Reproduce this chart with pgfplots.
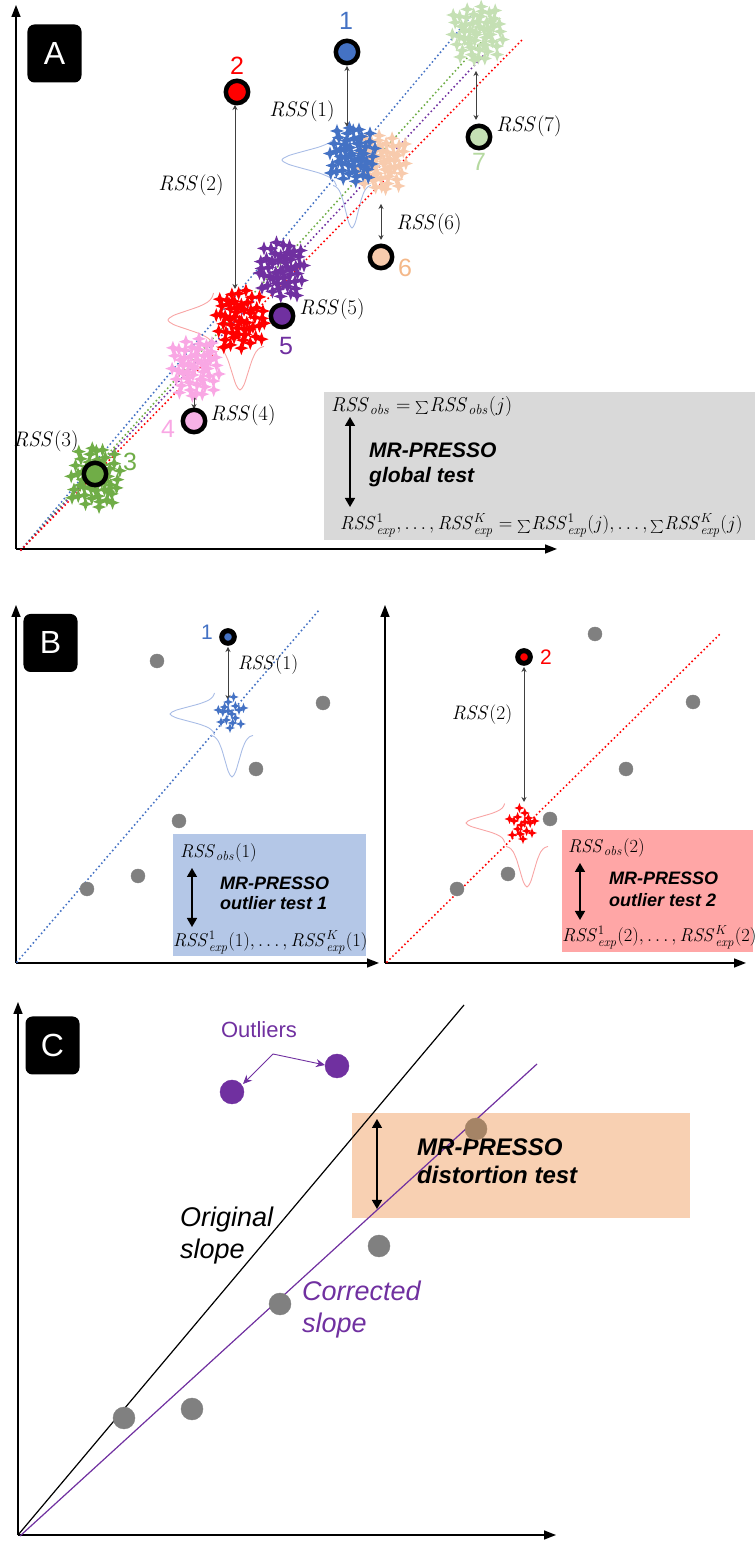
\RequirePackage{fix-cm}
\documentclass[border=0pt]{standalone}
\usepackage[no-math]{fontspec}
\setmainfont{Liberation Sans}
\usepackage{graphicx}
\usepackage{pgfplots}
\pgfplotsset{compat=1.18}
\usepackage{pgfplotstable}
\usetikzlibrary{arrows.meta}

\newcommand{\bsum}{\mathop{\raisebox{-0.15em}{\scalebox{1.3}{$\textstyle\sum$}}}\nolimits\!}

\definecolor{cblue}{HTML}{4472C4}
\definecolor{cred}{HTML}{FF0000}
\definecolor{cgreen}{HTML}{70AD47}
\definecolor{cpink}{HTML}{F9A7E4}
\definecolor{cpinkpt}{HTML}{F7B2E6}
\definecolor{cpurple}{HTML}{7030A0}
\definecolor{cpeach}{HTML}{F8CBAD}
\definecolor{cpeachlab}{HTML}{F4B889}
\definecolor{clgreen}{HTML}{C5E0B4}
\definecolor{clgreenlab}{HTML}{B5D9A0}
\definecolor{cgray}{HTML}{808080}
\definecolor{boxgray}{HTML}{D9D9D9}
\definecolor{boxblue}{HTML}{B4C7E7}
\definecolor{boxred}{HTML}{FFA6A6}
\definecolor{boxorange}{HTML}{F8D0B2}
\definecolor{cbrown}{HTML}{A58466}
\definecolor{lblue}{HTML}{A9BDE6}
\definecolor{lred}{HTML}{F8A5A5}
\definecolor{arrgray}{HTML}{404040}

\pgfdeclareplotmark{sparkle}{%
  \pgfpathmoveto{\pgfqpoint{0pt}{\pgfplotmarksize}}%
  \pgfpathlineto{\pgfqpoint{0.27\pgfplotmarksize}{0.27\pgfplotmarksize}}%
  \pgfpathlineto{\pgfqpoint{\pgfplotmarksize}{0pt}}%
  \pgfpathlineto{\pgfqpoint{0.27\pgfplotmarksize}{-0.27\pgfplotmarksize}}%
  \pgfpathlineto{\pgfqpoint{0pt}{-\pgfplotmarksize}}%
  \pgfpathlineto{\pgfqpoint{-0.27\pgfplotmarksize}{-0.27\pgfplotmarksize}}%
  \pgfpathlineto{\pgfqpoint{-\pgfplotmarksize}{0pt}}%
  \pgfpathlineto{\pgfqpoint{-0.27\pgfplotmarksize}{0.27\pgfplotmarksize}}%
  \pgfpathclose
  \pgfusepathqfill
}

\pgfplotstableread{
dx dy
-0.05 0.02
0.32 -0.15
-0.41 0.28
0.12 0.55
-0.22 -0.48
0.58 0.21
-0.63 -0.12
0.05 -0.82
0.44 0.67
-0.35 0.79
0.71 -0.44
-0.78 0.35
0.25 0.12
-0.15 0.33
0.38 -0.62
-0.52 -0.58
0.83 0.05
-0.88 -0.05
0.15 0.88
-0.08 -0.25
0.62 0.48
-0.28 -0.15
0.48 -0.05
-0.45 0.05
0.02 0.38
0.22 -0.38
-0.62 0.55
0.72 -0.72
-0.18 -0.72
0.35 0.35
-0.72 -0.38
0.08 -0.55
0.55 -0.28
-0.38 0.52
0.18 0.72
-0.55 0.22
0.92 -0.22
-0.12 0.62
0.28 -0.85
-0.25 0.10
0.65 0.75
-0.85 0.60
0.40 0.10
-0.02 -0.05
0.10 0.20
-0.30 -0.35
0.50 0.40
-0.60 -0.80
0.80 0.30
-0.45 -0.20
0.30 -0.40
-0.10 -0.90
}\jitter

\pgfplotstableread{
dx dy
-0.10 0.60
0.30 0.40
-0.40 0.10
0.10 0.00
0.50 0.20
-0.20 -0.30
0.30 -0.20
-0.50 -0.40
0.00 -0.70
0.60 -0.50
-0.30 0.35
0.20 0.85
0.75 0.30
-0.65 0.20
0.15 -0.45
-0.10 0.15
}\jitterB

\pgfplotsset{
  panel/.style={anchor=south west, x=1pt, y=1pt, axis lines*=left,
    xtick=\empty, ytick=\empty, clip=false,
    axis line style={line width=1.6pt, -{Triangle[length=12pt,width=9pt]}}},
  dotl/.style={line width=2.2pt, dash pattern=on 0pt off 4.2pt, line cap=round},
  thinarr/.style={arrgray, line width=0.8pt, {Stealth[length=5pt,width=5pt]}-{Stealth[length=5pt,width=5pt]}},
  thickarr/.style={black, line width=1.6pt, {Triangle[length=9pt,width=10pt]}-{Triangle[length=9pt,width=10pt]}},
  dens/.style={line width=0.9pt, smooth},
}
\tikzset{
  panlab/.style={fill=black, text=white, rounded corners=7pt, minimum width=54pt,
    minimum height=58pt, inner sep=0pt, font=\fontsize{32}{32}\selectfont},
  rss/.style={inner sep=0pt, font=\fontsize{21}{23}\selectfont},
  rssb/.style={inner sep=0pt, font=\fontsize{19.5}{21}\selectfont},
  num/.style={inner sep=0pt, font=\fontsize{25}{25}\selectfont},
}

\begin{document}
\begin{tikzpicture}
\useasboundingbox (0pt,0pt) rectangle (755pt,1551pt);

% ================= Panel A =================
\begin{axis}[panel, at={(16pt,1002pt)}, xmin=16, xmax=557, ymin=1002, ymax=1546]
\addplot[fill=boxgray, draw=none] coordinates {(324,1011) (760,1011) (760,1159) (324,1159)} -- cycle;
% densities
\addplot[dens, lblue] coordinates {(336.4,1417) (334.6,1412.7) (329.6,1408.4) (319.1,1404) (303.6,1399.7) (288.5,1395.3) (282,1391) (288.5,1386.7) (303.6,1382.3) (319.1,1378) (329.6,1373.6) (334.6,1369.3) (336.4,1365)};
\addplot[dens, lblue] coordinates {(333.1,1365.5) (336.25,1364.1) (339.4,1360.2) (342.55,1352) (345.7,1339.9) (348.85,1328.1) (352,1323) (355.15,1328.1) (358.3,1339.9) (361.45,1352) (364.6,1360.2) (367.75,1364.1) (370.9,1365.5)};
\addplot[dens, lred] coordinates {(213.5,1258) (212,1253.5) (207.8,1249) (199,1244.5) (186.1,1240) (173.4,1235.5) (168,1231) (173.4,1226.5) (186.1,1222) (199,1217.5) (207.8,1213) (212,1208.5) (213.5,1204)};
\addplot[dens, lred] coordinates {(216,1204.5) (220,1203.1) (224,1199.1) (228,1190.7) (232,1178.3) (236,1166.2) (240,1161) (244,1166.2) (248,1178.3) (252,1190.7) (256,1199.1) (260,1203.1) (264,1204.5)};
% clusters
\addplot[only marks, mark=sparkle, mark size=7pt, color=clgreen] table[x expr=\thisrow{dx}*28+477, y expr=\thisrow{dy}*30+1518]{\jitter};
\addplot[only marks, mark=sparkle, mark size=7pt, color=cpeach] table[x expr=-\thisrow{dx}*26+383, y expr=\thisrow{dy}*30+1389]{\jitter};
\addplot[only marks, mark=sparkle, mark size=7pt, color=cblue] table[x expr=\thisrow{dx}*25+352, y expr=-\thisrow{dy}*30+1396]{\jitter};
\addplot[only marks, mark=sparkle, mark size=7pt, color=cpurple] table[x expr=\thisrow{dy}*25+282, y expr=\thisrow{dx}*30+1281]{\jitter};
\addplot[only marks, mark=sparkle, mark size=7pt, color=cpink] table[x expr=\thisrow{dx}*26+195, y expr=\thisrow{dy}*32+1184]{\jitter};
\addplot[only marks, mark=sparkle, mark size=7pt, color=cred] table[x expr=-\thisrow{dy}*27+240, y expr=\thisrow{dx}*32+1231]{\jitter};
\addplot[only marks, mark=sparkle, mark size=7pt, color=cgreen] table[x expr=\thisrow{dx}*27+95, y expr=-\thisrow{dy}*33+1073]{\jitter};
% lines
\addplot[dotl, cblue] coordinates {(21,1001) (472,1536)};
\addplot[dotl, cgreen] coordinates {(21,1001) (497,1526)};
\addplot[dotl, cpurple] coordinates {(21,1001) (484,1496)};
\addplot[dotl, cred] coordinates {(21,1001) (522,1511)};
% arrows
\addplot[thinarr] coordinates {(347,1485) (347,1424)};
\addplot[thinarr] coordinates {(235,1446) (235,1262)};
\addplot[thinarr] coordinates {(194,1156) (194,1142)};
\addplot[thinarr] coordinates {(381,1347) (381,1311)};
\addplot[thinarr] coordinates {(476,1480) (476,1431)};
\addplot[thickarr] coordinates {(350,1134) (350,1044)};
% points
\addplot[only marks, mark=*, mark size=11.2pt, mark options={draw=black, line width=4.5pt, fill=cblue}] coordinates {(347,1499)};
\addplot[only marks, mark=*, mark size=11.2pt, mark options={draw=black, line width=4.5pt, fill=cred}] coordinates {(237,1459)};
\addplot[only marks, mark=*, mark size=11.2pt, mark options={draw=black, line width=4.5pt, fill=cgreen}] coordinates {(95,1077)};
\addplot[only marks, mark=*, mark size=11.2pt, mark options={draw=black, line width=4.5pt, fill=cpinkpt}] coordinates {(194,1130)};
\addplot[only marks, mark=*, mark size=11.2pt, mark options={draw=black, line width=4.5pt, fill=cpurple}] coordinates {(282,1235)};
\addplot[only marks, mark=*, mark size=11.2pt, mark options={draw=black, line width=4.5pt, fill=cpeach}] coordinates {(381,1294)};
\addplot[only marks, mark=*, mark size=11.2pt, mark options={draw=black, line width=4.5pt, fill=clgreen}] coordinates {(479,1414)};
% texts
\node[panlab] at (axis cs:54.5,1497.5) {A};
\node[num, text=cblue] at (axis cs:346,1530) {1};
\node[num, text=cred] at (axis cs:237,1485) {2};
\node[num, text=cgreen] at (axis cs:130,1089) {3};
\node[num, text=cpink] at (axis cs:168,1122) {4};
\node[num, text=cpurple] at (axis cs:286,1205) {5};
\node[num, text=cpeachlab] at (axis cs:405,1283) {6};
\node[num, text=clgreenlab] at (axis cs:479,1389) {7};
\node[rss] at (axis cs:302,1440) {$\mathit{RSS}(1)$};
\node[rss] at (axis cs:191,1366) {$\mathit{RSS}(2)$};
\node[rss] at (axis cs:46,1110) {$\mathit{RSS}(3)$};
\node[rss] at (axis cs:243,1136) {$\mathit{RSS}(4)$};
\node[rss] at (axis cs:332,1242) {$\mathit{RSS}(5)$};
\node[rss] at (axis cs:429,1327) {$\mathit{RSS}(6)$};
\node[rss] at (axis cs:529,1425) {$\mathit{RSS}(7)$};
\node[rss, anchor=base west, font=\fontsize{20}{22}\selectfont] at (axis cs:331,1139) {$\mathit{RSS}_{\mathit{obs}}=\bsum \mathit{RSS}_{\mathit{obs}}(j)$};
\node[rss, anchor=base west, font=\fontsize{18.8}{21}\selectfont] at (axis cs:340,1021) {$\mathit{RSS}^{1}_{\mathit{exp}}, \ldots, \mathit{RSS}^{K}_{\mathit{exp}}=\bsum \mathit{RSS}^{1}_{\mathit{exp}}(j), \ldots, \bsum \mathit{RSS}^{K}_{\mathit{exp}}(j)$};
\node[inner sep=0pt, anchor=base west, font=\fontsize{21}{21}\selectfont\bfseries\itshape] at (axis cs:369,1093) {MR-PRESSO};
\node[inner sep=0pt, anchor=base west, font=\fontsize{21}{21}\selectfont\bfseries\itshape] at (axis cs:369,1068) {global test};
\end{axis}

% ================= Panel B left =================
\begin{axis}[panel, at={(16pt,588pt)}, xmin=16, xmax=379, ymin=588, ymax=946]
\addplot[fill=boxblue, draw=none] coordinates {(173,595) (366,595) (366,717) (173,717)} -- cycle;
\addplot[dotl, cblue] coordinates {(17,589) (320,942)};
\addplot[only marks, mark=*, mark size=7pt, color=cgray] coordinates {(157,890) (323,848) (256,782) (179,730) (138,675) (87,662)};
\addplot[dens, lblue] coordinates {(214.5,858) (213,854.5) (208.9,851) (200.4,847.5) (187.7,844) (175.3,840.5) (170,837) (175.3,833.5) (187.7,830) (200.4,826.5) (208.9,823) (213,819.5) (214.5,816)};
\addplot[dens, lblue] coordinates {(211,815.5) (214.5,814.2) (218,810.3) (221.5,802.4) (225,790.5) (228.5,779) (232,774) (235.5,779) (239,790.5) (242.5,802.4) (246,810.3) (249.5,814.2) (253,815.5)};
\addplot[only marks, mark=sparkle, mark size=5pt, color=cblue] table[x expr=\thisrow{dx}*18+230, y expr=\thisrow{dy}*20+837]{\jitterB};
\addplot[thinarr] coordinates {(228,904) (228,851)};
\addplot[thickarr] coordinates {(192,683) (192,624)};
\addplot[only marks, mark=*, mark size=6.3pt, mark options={draw=black, line width=5pt, fill=cblue}] coordinates {(228,914)};
\node[panlab] at (axis cs:50.5,908) {B};
\node[inner sep=0pt, text=cblue, font=\fontsize{21}{21}\selectfont] at (axis cs:207,919) {1};
\node[rssb] at (axis cs:268,886) {$\mathit{RSS}(1)$};
\node[rssb, anchor=base west, font=\fontsize{18.5}{20}\selectfont] at (axis cs:180,693) {$\mathit{RSS}_{\mathit{obs}}(1)$};
\node[rssb, anchor=base west, font=\fontsize{18.5}{20}\selectfont] at (axis cs:173,604) {$\mathit{RSS}^{1}_{\mathit{exp}}(1), \ldots, \mathit{RSS}^{K}_{\mathit{exp}}(1)$};
\node[inner sep=0pt, anchor=base west, font=\fontsize{18}{18}\selectfont\bfseries\itshape] at (axis cs:220,661) {MR-PRESSO};
\node[inner sep=0pt, anchor=base west, font=\fontsize{18}{18}\selectfont\bfseries\itshape] at (axis cs:220,641) {outlier test 1};
\end{axis}

% ================= Panel B right =================
\begin{axis}[panel, at={(385pt,588pt)}, xmin=385, xmax=746, ymin=588, ymax=946]
\addplot[fill=boxred, draw=none] coordinates {(562,599) (753,599) (753,721) (562,721)} -- cycle;
\addplot[dotl, cred] coordinates {(387,589) (722,919)};
\addplot[only marks, mark=*, mark size=7pt, color=cgray] coordinates {(595,917) (693,849) (626,782) (550,732) (508,677) (457,662)};
\addplot[dens, lred] coordinates {(504.6,747.5) (503.3,744.25) (499.7,741) (492.3,737.75) (481.3,734.5) (470.6,731.25) (466,728) (470.6,724.75) (481.3,721.5) (492.3,718.25) (499.7,715) (503.3,711.75) (504.6,708.5)};
\addplot[dens, lred] coordinates {(506,704.5) (509.5,703.2) (513,699.5) (516.5,691.7) (520,680.1) (523.5,668.8) (527,664) (530.5,668.8) (534,680.1) (537.5,691.7) (541,699.5) (544.5,703.2) (548,704.5)};
\addplot[only marks, mark=sparkle, mark size=5pt, color=cred] table[x expr=-\thisrow{dx}*18+523, y expr=\thisrow{dy}*20+726]{\jitterB};
\addplot[thinarr] coordinates {(524,884) (524,749)};
\addplot[thickarr] coordinates {(580,688) (580,631)};
\addplot[only marks, mark=*, mark size=6.3pt, mark options={draw=black, line width=5pt, fill=cred}] coordinates {(524,894)};
\node[inner sep=0pt, text=cred, font=\fontsize{21}{21}\selectfont] at (axis cs:546,894) {2};
\node[rssb] at (axis cs:482,836) {$\mathit{RSS}(2)$};
\node[rssb, anchor=base west, font=\fontsize{18.5}{20}\selectfont] at (axis cs:568,698) {$\mathit{RSS}_{\mathit{obs}}(2)$};
\node[rssb, anchor=base west, font=\fontsize{18.5}{20}\selectfont] at (axis cs:562,609) {$\mathit{RSS}^{1}_{\mathit{exp}}(2), \ldots, \mathit{RSS}^{K}_{\mathit{exp}}(2)$};
\node[inner sep=0pt, anchor=base west, font=\fontsize{18}{18}\selectfont\bfseries\itshape] at (axis cs:609,666) {MR-PRESSO};
\node[inner sep=0pt, anchor=base west, font=\fontsize{18}{18}\selectfont\bfseries\itshape] at (axis cs:609,644) {outlier test 2};
\end{axis}

% ================= Panel C =================
\begin{axis}[panel, at={(18pt,16pt)}, xmin=18, xmax=556, ymin=16, ymax=549]
\addplot[fill=boxorange, draw=none] coordinates {(352,333) (690,333) (690,438) (352,438)} -- cycle;
\addplot[black, line width=1.2pt] coordinates {(18,16) (464,546)};
\addplot[cpurple, line width=1.2pt] coordinates {(20,15) (537,487)};
\addplot[only marks, mark=*, mark size=11pt, color=cgray] coordinates {(379,305) (280,247) (192,142) (124,133)};
\addplot[only marks, mark=*, mark size=11pt, color=cbrown] coordinates {(476,422)};
\addplot[only marks, mark=*, mark size=12pt, color=cpurple] coordinates {(232,459) (337,485)};
\addplot[cpurple, line width=0.9pt, -{Stealth[length=9pt,width=8pt]}] coordinates {(273,497) (243,467)};
\addplot[cpurple, line width=0.9pt, -{Stealth[length=9pt,width=8pt]}] coordinates {(273,497) (325,486)};
\addplot[thickarr] coordinates {(377,432) (377,342)};
\node[panlab] at (axis cs:52.5,505.5) {C};
\node[inner sep=0pt, anchor=base, text=cpurple, font=\fontsize{22}{22}\selectfont] at (axis cs:259,513) {Outliers};
\node[inner sep=0pt, anchor=base west, font=\fontsize{24}{24}\selectfont\bfseries\itshape] at (axis cs:417,395) {MR-PRESSO};
\node[inner sep=0pt, anchor=base west, font=\fontsize{24}{24}\selectfont\bfseries\itshape] at (axis cs:417,367) {distortion test};
\node[inner sep=0pt, anchor=base west, font=\fontsize{27}{27}\selectfont\itshape] at (axis cs:180,324) {Original};
\node[inner sep=0pt, anchor=base west, font=\fontsize{27}{27}\selectfont\itshape] at (axis cs:180,292) {slope};
\node[inner sep=0pt, anchor=base west, text=cpurple, font=\fontsize{27}{27}\selectfont\itshape] at (axis cs:302,250) {Corrected};
\node[inner sep=0pt, anchor=base west, text=cpurple, font=\fontsize{27}{27}\selectfont\itshape] at (axis cs:302,218) {slope};
\end{axis}
\end{tikzpicture}
\end{document}
